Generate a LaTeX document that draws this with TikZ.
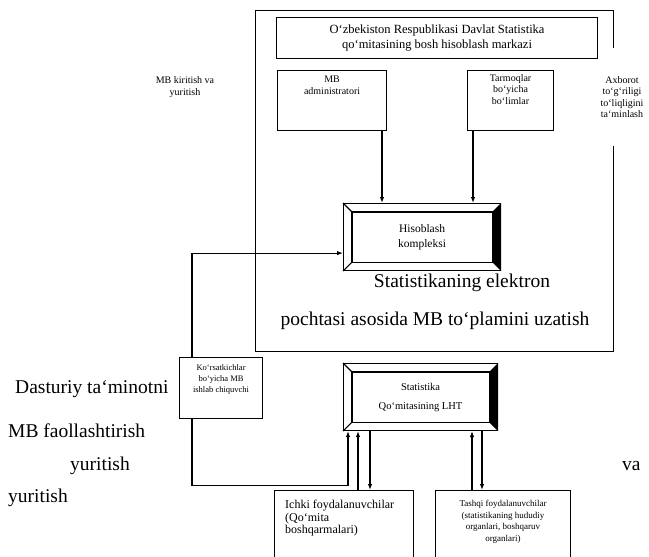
\documentclass[tikz,border=0pt]{standalone}
\usepackage{fontspec}
\setmainfont{Liberation Serif}
\usetikzlibrary{shapes,arrows,positioning,calc}
\usetikzlibrary{arrows.meta}

\tikzset{
  panel/.style={draw, rectangle, inner sep=0pt, line width=1.1pt},
  bevelbox/.style={draw, rectangle, inner sep=0pt, line width=1.1pt, align=center},
  boxtext/.style={align=center, inner sep=0pt, font=\fontsize{10}{11.5}\selectfont},
  bigtext/.style={inner sep=0pt, font=\fontsize{19.5}{24}\selectfont},
  arr/.style={line width=1.1pt, -{Latex[length=6pt,width=4.5pt]}},
  link/.style={line width=1.1pt}
}

% rim of a raised box: #1 node, #2 side width, #3 top/bottom width
\newcommand{\bevelrim}[3]{%
  \coordinate (#1-nw) at ($(#1.north west)+(#2,#3)$);
  \coordinate (#1-ne) at ($(#1.north east)+(-#2,#3)$);
  \coordinate (#1-se) at ($(#1.south east)+(-#2,-#3)$);
  \coordinate (#1-sw) at ($(#1.south west)+(#2,-#3)$);
  \fill (#1.north east) -- (#1-ne) -- (#1-se) -- (#1.south east) -- cycle;
  \draw[line width=1.1pt] (#1-nw) rectangle (#1-se);
  \draw[line width=1.1pt] (#1.north west) -- (#1-nw) (#1.south west) -- (#1-sw);
}

\begin{document}
\begin{tikzpicture}[x=1pt,y=-1pt]
\useasboundingbox (0,0) rectangle (649,557);

% Outer frame and the side note that breaks it
\node[panel, anchor=north west, minimum width=358, minimum height=341] (frame) at (255,10) {};
\node[boxtext, fill=white, inner xsep=1pt, inner ysep=28pt] (axborot) at (622,97)
  {Axborot\\to`g`riligi\\to`liqligini\\ta`minlash};

% Boxes in the upper part
\node[panel, boxtext, font=\fontsize{12.5}{15}\selectfont, anchor=north west,
  minimum width=321, minimum height=41] (markaz) at (276,17)
  {O`zbekiston Respublikasi Davlat Statistika\\qo`mitasining bosh hisoblash markazi};
\node[panel, anchor=north west, minimum width=109, minimum height=60] (admin) at (277,70) {};
\node[boxtext, below=6pt of admin.north] (admin-t) {MB\\administratori};
\node[panel, anchor=north west, minimum width=86, minimum height=60] (tarmoq) at (467,70) {};
\node[boxtext, below=4pt of tarmoq.north] (tarmoq-t) {Tarmoqlar\\bo`yicha\\bo`limlar};
\node[boxtext] (kiritish) at (185,87) {MB kiritish va\\yuritish};

% Raised boxes
\node[bevelbox, font=\fontsize{11.5}{15}\selectfont, anchor=north west,
  minimum width=157, minimum height=67] (hisob) at (343,203) {Hisoblash\\kompleksi};
\bevelrim{hisob}{9}{9}
\node[bevelbox, font=\fontsize{10.5}{19}\selectfont, anchor=north west,
  minimum width=154, minimum height=67] (lht) at (343,363) {Statistika\\Qo`mitasining LHT};
\bevelrim{lht}{9}{9}

% Large running text
\node[bigtext, anchor=base] (elektron) at (462,287) {Statistikaning elektron};
\node[bigtext, anchor=base] (pochta) at (435,325) {pochtasi asosida MB to`plamini uzatish};
\node[bigtext, anchor=base west] (dastur) at (15,393) {Dasturiy ta`minotni};
\node[bigtext, anchor=base west] (faol) at (8,437) {MB faollashtirish};
\node[bigtext, anchor=base west] (yurit1) at (70,470) {yuritish};
\node[bigtext, anchor=base west] (va) at (622,470) {va};
\node[bigtext, anchor=base west] (yurit2) at (8,502) {yuritish};

% Lower boxes
\node[panel, anchor=north west, minimum width=83, minimum height=61] (korsat) at (179,357) {};
\node[boxtext, font=\fontsize{8.5}{11}\selectfont, below=7pt of korsat.north] (korsat-t)
  {Ko`rsatkichlar\\bo`yicha MB\\ishlab chiquvchi};
\node[panel, anchor=north west, minimum width=139, minimum height=80] (ichki) at (274,490) {};
\node[boxtext, align=left, font=\fontsize{12}{12.5}\selectfont, anchor=north west] (ichki-t)
  at (285,500) {Ichki foydalanuvchilar\\(Qo`mita\\boshqarmalari)};
\node[panel, anchor=north west, minimum width=135, minimum height=80] (tashqi) at (435,490) {};
\node[boxtext, font=\fontsize{9}{11.5}\selectfont, below=10pt of tashqi.north] (tashqi-t)
  {Tashqi foydalanuvchilar\\(statistikaning hududiy\\organlari, boshqaruv\\organlari)};

% Arrows into the computing box
\coordinate (a1) at ($(hisob.north west)+(39,0)$);
\coordinate (t1) at ($(hisob.north west)+(130,0)$);
\draw[arr] (a1 |- admin.south) -- (a1);
\draw[arr] (t1 |- tarmoq.south) -- (t1);
\draw[arr] ($(korsat.north west)+(13,0)$) |- ($(hisob.south west)+(0,-18)$);

% Links between the LHT box and the users
\draw[arr] ($(korsat.south west)+(13,0)$) -- ++(0,66) -| ($(lht.south west)+(5,0)$);
\foreach \up/\dn/\user in {15/27/ichki, 129/139/tashqi} {
  \coordinate (u) at ($(lht.south west)+(\up,0)$);
  \coordinate (d) at ($(lht.south west)+(\dn,0)$);
  \draw[arr] (u |- \user.north) -- (u);
  \draw[arr] (d) -- (d |- \user.north);
}

\end{tikzpicture}
\end{document}
